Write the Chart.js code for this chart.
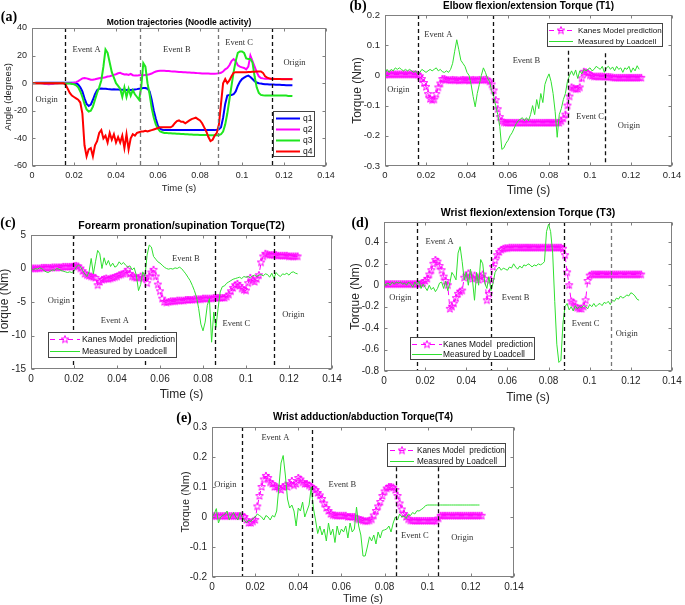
<!DOCTYPE html>
<html>
<head>
<meta charset="utf-8">
<script src="https://cdn.jsdelivr.net/npm/chart.js@4.4.1/dist/chart.umd.min.js"></script>
<style>
  body { margin: 0; width: 685px; height: 605px; background: #fff; position: relative; overflow: hidden; }
  canvas { position: absolute; }
</style>
</head>
<body>
<script>
// all series are sampled every 1 ms
const STEP = 0.001;
const xTicks = [0, 0.02, 0.04, 0.06, 0.08, 0.1, 0.12, 0.14];
const regionNames = ['Origin', 'Event A', 'Event B', 'Event C', 'Origin'];

// (a) joint angles (degrees)
const q1 = [0.2,0.2,0.3,0.3,0.3,0.3,0.3,0.3,0.3,0.3, 0.3,0.3,0.3,0.4,0.4,0.4,0.4,0.4,0.4,0.4,
  0.3,0,-1,-3,-6,-11,-15,-16.5,-15.5,-12, -8,-5,-4,-3.8,-4,-4,-4.2,-4.3,-4.5,-4.4,
  -4.5,-4.6,-4.7,-4.8,-4.8,-5,-4.8,-4.9,-4.7,-4.5, -4.3,-4,-3.8,-3.5,-3.5,-4,-6,-12,-20,-26,
  -31,-33,-33.8,-34,-34,-34,-34,-34,-34,-34, -34,-34,-34,-34,-34,-34,-34,-34,-34,-34,
  -34,-34,-34,-34,-34,-34,-34,-34,-33.8,-33.5, -32,-25,-15,-9,-8.5,-8.5,-8,-6,-2,1,
  3,4,5,5.5,4.5,3,1.5,0.5,0,-0.3, -0.5,-0.7,-0.8,-0.9,-1,-1,-1.1,-1.2,-1.2,-1.3,
  -1.3,-1.4,-1.4,-1.5,-1.5];
const q2 = [0,0,0,0,0,-0.3,-0.5,-0.6,-0.7,-0.6, -0.5,-0.3,-0.2,0,0,0,0,0,0,0,
  0.3,0.8,1.5,2.5,3.5,3.8,3.5,3,2.5,2.5, 2.8,3.2,3.6,4,4,4.3,4.8,5,5.5,6,
  6.5,7.2,7.5,6.8,6.3,6.5,6,6.8,5.8,5.5, 5.5,5.8,6,5.8,6,6.2,6.5,7,7.8,8.5,
  8.8,9,9,9,8.9,8.8,8.6,8.5,8.4,8.3, 8.2,8.1,8,7.9,7.8,7.7,7.6,7.5,7.4,7.3,
  7.2,7.1,7,7,7,6.9,6.9,6.9,7,7.2, 7.5,8.5,10,11,13,16,17.5,16,13,12,
  11.5,11,10,12,20,16,12,8,5,3.8, 3.5,3.3,3.3,3.2,3.2,3.2,3.1,3.1,3.1,3,
  3,3,3,3,3];
const q3 = [0,0,0,0,0,0,0,0,0,0, 0,0,0,0,0,0,-0.2,-0.2,-0.3,-0.5,
  -0.8,-1.5,-3,-6,-10,-15,-19,-20.5,-20,-17, -12,-7,-3,2,12,24.5,22,15,8,4,
  0,-2,-4,-10,-3,-10,-4,-9,-5,-8, -10,-12,-3,14.5,12,0,-8,-18,-25,-30,
  -33,-35,-35.5,-36,-36,-36.2,-36.3,-36.4,-36.5,-36.6, -36.7,-36.8,-36.9,-37,-37,-37.1,-37.2,-37.3,-37.3,-37.4,
  -37.5,-37.5,-37.6,-37.6,-37.7,-37.7,-37.8,-37.8,-37.7,-37.5, -37,-35,-30,-22,-12,-2,8,16,22,23,
  23,22,18,17.5,17.5,15,5,-3,-7,-8.5, -8.8,-9,-9,-9,-9,-9,-9,-9,-9,-9,
  -9,-9,-9.2,-9.2,-9.3];
const q4 = [0,0,0,0,0,0,0,0,0,0, 0,0,0,0,0,0,-1,-4,-7,-9,
  -10,-11,-12,-14,-22,-45,-53,-48,-47,-53, -45,-42,-36,-34,-40,-38,-43,-36,-41,-37,
  -43,-39,-43,-38,-47,-37,-48,-40,-37,-38, -36,-35.5,-35,-35,-34.5,-35,-34.5,-34,-33.5,-33,
  -32.5,-32,-32,-32,-32,-32,-32,-31,-29,-27.5, -27,-28,-28,-29,-28,-27,-26,-25.5,-25,-26,
  -27,-29,-32,-35,-39,-42,-41,-38,-36,-30, -15,0,3,0,2,5,7.5,8,8,8,
  8,8,8,8.2,8.2,8.3,8.3,8.4,8.5,8.5, 7.5,5,4,3.5,3,3,3,3,3,2.9,
  2.9,2.9,2.8,2.8,2.8];
const aYTicks = [-60, -40, -20, 0, 20, 40];
const aEvents = [0.0155, 0.0515, 0.0885, 0.1145];

// (b) elbow flexion/extension torque (Nm)
const bKanes = [0.002,0.003,0.003,0.003,0.003,0.003,0.003,0.003,0.003,0.003,
  0.003,0.003,0.003,0.003,0.003,0.003,0.002,-0.003,-0.012,-0.025,
  -0.038,-0.062,-0.078,-0.082,-0.08,-0.062,-0.04,-0.027,-0.012,-0.012,
  -0.015,-0.016,-0.016,-0.015,-0.016,-0.016,-0.017,-0.016,-0.015,-0.016,
  -0.016,-0.017,-0.016,-0.015,-0.016,-0.016,-0.015,-0.016,-0.015,-0.014,
  -0.016,-0.02,-0.03,-0.05,-0.082,-0.112,-0.138,-0.152,-0.156,-0.157,
  -0.157,-0.157,-0.157,-0.157,-0.157,-0.157,-0.157,-0.157,-0.157,-0.157,
  -0.157,-0.157,-0.157,-0.157,-0.157,-0.157,-0.157,-0.157,-0.157,-0.157,
  -0.157,-0.157,-0.157,-0.157,-0.157,-0.157,-0.152,-0.143,-0.13,-0.1,
  -0.07,-0.04,-0.043,-0.046,-0.045,-0.04,-0.01,0.012,0.01,0.007,
  0,-0.002,-0.004,-0.004,-0.004,-0.004,-0.004,-0.005,-0.005,-0.005,
  -0.006,-0.007,-0.008,-0.008,-0.008,-0.008,-0.008,-0.008,-0.008,-0.008,
  -0.008,-0.008,-0.008,-0.008,-0.008,-0.008];
const bLoad = [0.005,0.02,0.01,0.02,0.015,0.025,0.02,0.025,0.02,0.015,
  0.02,0.015,0.02,0.015,0.01,0.015,0.005,0.01,0.02,0.015,
  0.01,0.015,0.02,0.015,0.02,0.025,0.015,0.02,0.012,0.01,
  0.015,0.01,0.02,0.04,0.08,0.118,0.085,0.05,0.04,0.03,
  0.01,0,-0.03,-0.07,-0.104,-0.06,-0.03,0,0.025,0.01,
  -0.01,-0.02,-0.05,-0.07,-0.1,-0.13,-0.17,-0.245,-0.24,-0.225,
  -0.215,-0.2,-0.19,-0.175,-0.16,-0.15,-0.145,-0.14,-0.15,-0.14,
  -0.15,-0.13,-0.1,-0.13,-0.08,-0.11,-0.06,-0.09,-0.03,-0.01,
  0.005,-0.02,-0.06,-0.12,-0.205,-0.13,-0.11,-0.08,-0.06,-0.02,
  0,0.015,0,0.018,-0.01,0.015,0.005,0.02,0.015,0.02,
  0.025,0.015,0.02,0.03,0.025,0.02,0.03,0.01,0.025,0.03,
  0.02,0.028,0.015,0.03,0.02,0.025,0.01,0.025,0.02,0.03,
  0.01,0.025,0.015,0.032,0.02];
const bYTicks = [-0.3, -0.2, -0.1, 0, 0.1, 0.2];
const bEvents = [0.0163, 0.0529, 0.0895, 0.1074];
const bEventTops = [0.2, 0.2, 0.082, 0.073];

// (c) forearm pronation/supination torque (Nm)
const cKanes = [0,0,0,0,0,0.1,0.1,0.1,0.1,0.1,
  0.15,0.15,0.15,0.15,0.15,0.25,0.25,0.25,0.25,0.25,
  0.35,0.4,0.3,0,-0.4,-0.8,-1,-1.1,-1.2,-1.3,
  -1.4,-2.5,-2,-1.7,-1.6,-1.5,-1.6,-1.5,-1.4,-1.3,
  -1.2,-1,-0.9,-0.8,-0.6,-0.2,-0.8,-1.2,-1.3,-1.4,
  -1.4,-1.2,-1.5,-1.3,-2.2,-1.2,-0.6,-0.2,-1.2,-2.4,
  -3.4,-4.5,-5,-5.1,-5,-4.9,-4.9,-4.9,-4.8,-4.8,
  -4.8,-4.8,-4.7,-4.7,-4.7,-4.7,-4.6,-4.6,-4.6,-4.6,
  -4.5,-4.5,-4.5,-4.5,-4.5,-4.4,-4.4,-4.4,-4.4,-4.4,
  -4.4,-4.2,-3.9,-3.4,-2.9,-2.5,-2.3,-2.6,-3,-3.2,
  -3.3,-2.2,-1.4,-1.8,-2,-1.6,-1,0.9,1.8,2.2,
  2.1,2,2,2,2,1.9,1.9,1.9,1.9,1.9,
  1.8,1.8,1.8,1.8,1.8];
const cLoad = [0,-0.2,0,-0.1,0.1,0,-0.3,-0.5,-0.6,-0.4,
  -0.2,-0.3,0,-0.1,-0.3,-0.4,-0.5,-0.6,-0.5,-0.6,
  -0.4,0.2,0.5,0.3,-0.3,-0.8,-1.2,-0.5,1.5,-0.8,
  1,2.7,2.2,0,1.6,0.5,1.2,0.3,0.8,0.2,
  0.4,1,0.6,0.9,0.5,0.2,0.4,-0.2,0.1,-1,
  -3.3,-2.4,-0.5,-1.2,2,3.5,3.2,1.8,1.4,1,
  0.8,0.5,0.2,0,-0.1,0,-0.1,0.1,0,0.2,
  0,-0.4,-0.8,-1.3,-1.8,-2.5,-3.3,-4.3,-6,-8.3,
  -9.3,-8,-5.5,-4.5,-11,-6.5,-8.8,-6,-3.5,-2.7,
  -2.6,-2.2,-2,-1.8,-1.6,-1.5,-1.4,-1.3,-1.5,-1.2,
  -1.3,-1.2,-1.4,-1.1,-1,-1.2,-1,-0.9,-1.1,-0.8,
  -0.9,-1.3,-0.7,-1.5,-0.6,-1,-1.2,-0.8,-0.9,-0.7,
  -1,-0.6,-0.5,-0.7,-0.8];
const cYTicks = [-15, -10, -5, 0, 5];
const cEvents = [0.0197, 0.0528, 0.0854, 0.1128];

// (d) wrist flexion/extension torque (Nm)
const dKanes = [0.01,0.01,0.01,0.01,0.01,0.01,0.01,0.01,0.01,0.01,
  0.01,0.01,0.01,0.01,0.01,0.01,0.01,0.01,0.015,0.02,
  0.04,0.06,0.1,0.14,0.2,0.235,0.22,0.18,0.14,0.08,
  0.04,0,-0.22,-0.2,-0.17,-0.12,-0.08,-0.06,-0.05,0.07,
  0.09,0.11,0.08,0.06,0.09,0.07,0.05,0.08,0.1,0.06,
  -0.14,-0.08,0.05,0.17,0.23,0.28,0.31,0.33,0.34,0.345,
  0.345,0.35,0.35,0.35,0.35,0.35,0.35,0.35,0.35,0.35,
  0.35,0.35,0.35,0.35,0.35,0.35,0.35,0.35,0.35,0.35,
  0.35,0.35,0.35,0.35,0.35,0.35,0.35,0.34,0.28,0.12,
  0,-0.15,-0.16,-0.2,-0.21,-0.22,-0.22,-0.2,-0.14,0.04,
  0.09,0.1,0.1,0.1,0.1,0.1,0.1,0.1,0.1,0.1,
  0.1,0.1,0.1,0.1,0.1,0.1,0.1,0.1,0.1,0.1,
  0.1,0.1,0.1,0.1,0.1,0.1];
const dLoad = [0,0.01,0.02,0,0.03,0.01,0.03,0.02,0.03,0.01,
  0.02,0,0.03,0.01,-0.02,0.03,0,0.04,-0.03,0.01,
  -0.02,-0.05,0,-0.04,-0.02,-0.06,-0.03,0.02,0.03,-0.03,
  0.04,-0.05,0.02,0.12,0.09,0.05,0.3,0.36,0.22,0.05,
  0.12,0,0.15,0.05,-0.14,0.12,0,0.24,0.2,0.02,
  -0.03,0.08,-0.05,0.02,0.12,0.15,0.17,0.14,0.16,0.15,
  0.14,0.17,0.16,0.2,0.17,0.15,0.18,0.16,0.19,0.18,
  0.2,0.19,0.17,0.19,0.18,0.2,0.19,0.2,0.22,0.5,
  0.57,0.5,0.3,-0.15,-0.55,-0.72,-0.7,-0.35,-0.2,-0.17,
  -0.23,-0.2,-0.24,-0.19,-0.22,-0.2,-0.21,-0.19,-0.2,-0.22,
  -0.18,-0.2,-0.17,-0.2,-0.18,-0.17,-0.19,-0.16,-0.17,-0.15,
  -0.18,-0.14,-0.15,-0.12,-0.13,-0.1,-0.12,-0.11,-0.09,-0.1,
  -0.07,-0.08,-0.1,-0.13,-0.14];
const dYTicks = [-0.8, -0.6, -0.4, -0.2, 0, 0.2, 0.4];
const dEvents = [0.016, 0.052, 0.0875, 0.1104];

// (e) wrist adduction/abduction torque (Nm)
const eKanes = [0.003,0.003,0.003,0.003,0.003,0.003,0.003,0.003,0.003,0.003,
  0.003,0.003,0.003,0.003,0.003,0,-0.01,-0.02,-0.02,-0.015,
  -0.01,0.035,0.07,0.1,0.125,0.137,0.13,0.115,0.11,0.1,
  0.1,0.095,0.09,0.1,0.105,0.1,0.11,0.12,0.105,0.11,
  0.13,0.125,0.115,0.11,0.11,0.105,0.1,0.095,0.09,0.08,
  0.072,0.06,0.045,0.03,0.02,0.01,0.006,0.005,0.004,0.004,
  0.004,0.004,0.004,0,0,0,0,-0.005,-0.008,-0.01,
  -0.012,-0.014,-0.014,-0.012,-0.008,0.005,0.02,0.035,0.05,0.07,
  0.085,0.095,0.1,0.1,0.098,0.09,0.07,0.045,0.025,0.01,
  0,-0.008,-0.012,-0.013,-0.013,-0.013,-0.013,-0.013,-0.013,-0.013,
  -0.013,-0.013,-0.013,-0.013,-0.014,-0.005,0.004,0.004,0.004,0.004,
  0.004,0.004,0.004,0.004,0.004,0.004,0.004,0.004,0.004,0.004,
  0.004,0.004,0.004,0.004,0.004,0.004];
const eLoad = [0,0.01,0.028,-0.02,0,0.005,0.01,0.02,-0.01,0.005,
  0.015,0,-0.01,0.015,0,-0.01,-0.02,-0.01,-0.015,-0.005,
  0,0.01,0.005,0,-0.01,0.005,0,-0.01,0.005,0,
  0.02,0.1,0.18,0.205,0.14,0.06,0.03,0.04,0.02,-0.03,
  0.03,0.02,0.05,0,0.02,0.04,0.1,0.03,-0.01,-0.055,
  -0.03,-0.06,-0.04,-0.08,-0.02,-0.06,-0.04,-0.085,-0.03,-0.06,
  -0.04,-0.05,-0.03,-0.07,-0.02,-0.05,-0.04,0.033,-0.03,-0.06,
  -0.13,-0.13,-0.1,-0.066,-0.08,-0.06,-0.09,-0.05,-0.07,-0.045,
  -0.043,-0.04,-0.03,-0.05,-0.02,0,-0.01,0.01,0,0.003,
  -0.005,0.01,0.005,0.015,0.01,0.021,0.02,0.025,0.03,0.038,
  0.04,0.04,0.04,0.04,0.04,0.04,0.04,0.04,0.04,0.04,
  0.04,0.04,0.04,0.04,0.04,0.04,0.04,0.04,0.04,0.04,
  0.04,0.04,0.04,0.04,0.04];
const eYTicks = [-0.2, -0.1, 0, 0.1, 0.2, 0.3];
const eEvents = [0.014, 0.0464, 0.0851, 0.1048];
const eEventTops = [0.3, 0.29, 0.166, 0.166];

// ---------- drawing ----------
const SANS = '"Liberation Sans", Arial, sans-serif';
const SERIF = '"Liberation Serif", "Times New Roman", serif';
const M = { l: 50, t: 30, r: 16, b: 36 };   // room round each plot box

function pts(vals) {
  return vals.map((v, i) => ({ x: +(i * STEP).toFixed(3), y: v }));
}

function fmt(v) { return String(+v.toFixed(3)); }

// hollow pentagram marker like matlab 'p'
function starImg(r) {
  const c = document.createElement('canvas');
  const s = Math.ceil(r * 2 + 2);
  c.width = c.height = s;
  const g = c.getContext('2d');
  g.beginPath();
  for (let k = 0; k < 10; k++) {
    const rr = k % 2 ? r * 0.42 : r;
    const ang = -Math.PI / 2 + k * Math.PI / 5;
    g.lineTo(s / 2 + rr * Math.cos(ang), s / 2 + rr * Math.sin(ang));
  }
  g.closePath();
  g.strokeStyle = '#ff00ff';
  g.lineWidth = 1;
  g.stroke();
  return c;
}
const STAR = starImg(4);

function kanes(vals) {
  return { label: 'Kanes Model prediction', data: pts(vals), borderColor: '#ff00ff', borderWidth: 1,
    borderDash: [5, 4], pointStyle: STAR, pointRadius: 4, order: 2 };
}
function load(vals) {
  return { label: 'Measured by Loadcell', data: pts(vals), borderColor: '#2fe02f', borderWidth: 1,
    pointRadius: 0, order: 1 };
}
function joint(label, vals, color, order) {
  return { label: label, data: pts(vals), borderColor: color, borderWidth: 2, pointRadius: 0, order: order };
}

function decorate(chart, p) {
  const ctx = chart.ctx, a = chart.chartArea, xs = chart.scales.x, ys = chart.scales.y;
  const ox = p.rect[0] - M.l, oy = p.rect[1] - M.t;
  ctx.save();

  // event boundaries
  ctx.save();
  ctx.beginPath(); ctx.rect(a.left, a.top, a.right - a.left, a.bottom - a.top); ctx.clip();
  ctx.setLineDash([4, 3]);
  ctx.lineWidth = 1.3;
  p.events.forEach((t, i) => {
    const x = Math.round(xs.getPixelForValue(t)) + 0.5;
    const y0 = p.eventTops ? ys.getPixelForValue(p.eventTops[i]) : a.top;
    ctx.strokeStyle = p.eventColors ? p.eventColors[i] : '#111';
    ctx.beginPath(); ctx.moveTo(x, y0); ctx.lineTo(x, a.bottom); ctx.stroke();
  });
  ctx.restore();

  // region names
  ctx.fillStyle = '#333';
  ctx.font = p.noteSize + 'px ' + SERIF;
  ctx.textAlign = 'center'; ctx.textBaseline = 'middle';
  regionNames.forEach((s, i) => {
    const [t, v] = p.notes[i];
    ctx.fillText(s, xs.getPixelForValue(t), ys.getPixelForValue(v));
  });

  // box + inward ticks
  const L = a.left + 0.5, R = Math.round(a.right) - 0.5, T = a.top + 0.5, B = Math.round(a.bottom) - 0.5;
  ctx.strokeStyle = '#808080'; ctx.lineWidth = 1; ctx.setLineDash([]);
  ctx.strokeRect(L, T, R - L, B - T);
  ctx.beginPath();
  xTicks.forEach(t => {
    const x = Math.round(xs.getPixelForValue(t)) + 0.5;
    ctx.moveTo(x, B); ctx.lineTo(x, B - 3); ctx.moveTo(x, T); ctx.lineTo(x, T + 3);
  });
  p.yTicks.forEach(v => {
    const y = Math.round(ys.getPixelForValue(v)) + 0.5;
    ctx.moveTo(L, y); ctx.lineTo(L + 3, y); ctx.moveTo(R, y); ctx.lineTo(R - 3, y);
  });
  ctx.stroke();

  // legend
  const lg = p.legend;
  const bx = lg.box[0] - ox, by = lg.box[1] - oy;
  ctx.fillStyle = '#fff';
  ctx.fillRect(bx, by, lg.box[2], lg.box[3]);
  ctx.strokeStyle = '#444';
  ctx.strokeRect(bx + 0.5, by + 0.5, lg.box[2] - 1, lg.box[3] - 1);
  ctx.font = lg.size + 'px ' + SANS;
  ctx.textAlign = 'left'; ctx.textBaseline = 'middle';
  chart.data.datasets.forEach((ds, i) => {
    const y = lg.rows[i] - oy + 0.5;
    const x0 = bx + lg.line[0], x1 = bx + lg.line[1];
    ctx.strokeStyle = ds.borderColor; ctx.lineWidth = ds.borderWidth;
    ctx.setLineDash(ds.borderDash || []);
    ctx.beginPath(); ctx.moveTo(x0, y); ctx.lineTo(x1, y); ctx.stroke();
    ctx.setLineDash([]);
    if (ds.pointStyle === STAR) ctx.drawImage(STAR, (x0 + x1) / 2 - STAR.width / 2, y - STAR.height / 2);
    ctx.fillStyle = '#111';
    ctx.fillText(lg.labels ? lg.labels[i] : ds.label, bx + lg.text, y);
  });

  // title, panel letter, axis labels
  const cx = (a.left + a.right) / 2;
  ctx.fillStyle = '#000';
  ctx.textAlign = 'center'; ctx.textBaseline = 'middle';
  ctx.font = 'bold ' + p.titleSize + 'px ' + SANS;
  ctx.fillText(p.title, cx, p.titleY - oy);
  ctx.font = 'bold ' + p.letterSize + 'px ' + SERIF;
  ctx.fillText(p.letter, p.letterPos[0] - ox, p.letterPos[1] - oy);
  ctx.fillStyle = '#262626';
  ctx.font = p.labelSize + 'px ' + SANS;
  ctx.fillText('Time (s)', cx, p.xLabelY - oy);
  ctx.save();
  ctx.translate(p.yLabelX - ox, (a.top + a.bottom) / 2);
  ctx.rotate(-Math.PI / 2);
  ctx.fillText(p.yLabel, 0, 0);
  ctx.restore();

  ctx.restore();
}

function makePanel(p) {
  const [L, T, R, B] = p.rect;
  const cv = document.createElement('canvas');
  cv.width = R - L + M.l + M.r;
  cv.height = B - T + M.t + M.b;
  cv.style.left = (L - M.l) + 'px';
  cv.style.top = (T - M.t) + 'px';
  document.body.appendChild(cv);
  const tickFont = { size: p.tickSize, family: SANS };
  new Chart(cv, {
    type: 'line',
    data: { datasets: p.datasets },
    options: {
      responsive: false, animation: false, devicePixelRatio: 1,
      layout: { padding: { left: 0, top: M.t, right: M.r, bottom: 0 } },
      elements: { line: { tension: 0, fill: false } },
      plugins: { legend: { display: false }, tooltip: { enabled: false } },
      scales: {
        x: {
          type: 'linear', min: 0, max: 0.14,
          afterBuildTicks: s => { s.ticks = xTicks.map(v => ({ value: v })); },
          afterFit: s => { s.height = M.b; },
          grid: { display: false, drawTicks: false }, border: { display: false },
          ticks: { font: tickFont, color: '#262626', padding: 4, maxRotation: 0, autoSkip: false, callback: v => fmt(v) }
        },
        y: {
          type: 'linear', min: p.yMin, max: p.yMax,
          afterBuildTicks: s => { s.ticks = p.yTicks.map(v => ({ value: v })); },
          afterFit: s => { s.width = M.l; },
          grid: { display: false, drawTicks: false }, border: { display: false },
          ticks: { font: tickFont, color: '#262626', padding: 5, autoSkip: false, callback: v => fmt(v) }
        }
      }
    },
    plugins: [{ id: 'deco', afterDatasetsDraw: c => decorate(c, p) }]
  });
}

makePanel({
  rect: [32, 28, 326, 166], yMin: -60, yMax: 40, yTicks: aYTicks,
  datasets: [joint('q1', q1, '#0000ff', 4), joint('q2', q2, '#ff00ff', 3),
             joint('q3', q3, '#1ee61e', 2), joint('q4', q4, '#ff0000', 1)],
  events: aEvents, eventColors: ['#111', '#777', '#777', '#111'],
  notes: [[0.007, -11.7], [0.026, 24], [0.069, 24], [0.0986, 29.6], [0.125, 14.5]], noteSize: 8.5,
  legend: { box: [273, 111, 42, 46], line: [3, 27], text: 30, rows: [118, 129, 140, 151], size: 8.5 },
  title: 'Motion trajectories (Noodle activity)', titleY: 23, titleSize: 8.5,
  letter: '(a)', letterPos: [9, 17], letterSize: 14,
  yLabel: 'Angle (degrees)', yLabelX: 8, xLabelY: 188, labelSize: 9.5, tickSize: 9
});

makePanel({
  rect: [385, 15, 672, 166], yMin: -0.3, yMax: 0.2, yTicks: bYTicks,
  datasets: [kanes(bKanes), load(bLoad)],
  events: bEvents, eventTops: bEventTops,
  notes: [[0.0065, -0.049], [0.026, 0.136], [0.069, 0.048], [0.1, -0.137], [0.119, -0.167]], noteSize: 8.5,
  legend: { box: [547, 23, 116, 24], line: [2, 26], text: 31, rows: [30, 41], size: 8 },
  title: 'Elbow flexion/extension Torque (T1)', titleY: 6, titleSize: 10,
  letter: '(b)', letterPos: [358, 6], letterSize: 14,
  yLabel: 'Torque (Nm)', yLabelX: 358, xLabelY: 191, labelSize: 12, tickSize: 9.5
});

makePanel({
  rect: [31, 235, 332, 369], yMin: -15, yMax: 5, yTicks: cYTicks,
  datasets: [kanes(cKanes), load(cLoad)],
  events: cEvents,
  notes: [[0.013, -4.8], [0.039, -7.8], [0.072, 1.4], [0.0955, -8.3], [0.122, -6.9]], noteSize: 8.5,
  legend: { box: [48, 332, 129, 26], line: [2, 32], text: 34, rows: [339, 351], size: 8.7,
            labels: ['Kanes Model  prediction', 'Measured by Loadcell'] },
  title: 'Forearm pronation/supination Torque(T2)', titleY: 226, titleSize: 10.5,
  letter: '(c)', letterPos: [8, 223], letterSize: 14,
  yLabel: 'Torque (Nm)', yLabelX: 5, xLabelY: 395, labelSize: 12, tickSize: 10
});

makePanel({
  rect: [384, 222, 672, 371], yMin: -0.8, yMax: 0.59, yTicks: dYTicks,
  datasets: [kanes(dKanes), load(dLoad)],
  events: dEvents, eventColors: ['#111', '#111', '#111', '#777'],
  notes: [[0.008, -0.12], [0.027, 0.41], [0.064, -0.12], [0.098, -0.36], [0.118, -0.45]], noteSize: 8.5,
  legend: { box: [410, 337, 125, 23], line: [2, 32], text: 33, rows: [344, 354], size: 8.4,
            labels: ['Kanes Model  prediction', 'Measured by Loadcell'] },
  title: 'Wrist flexion/extension Torque (T3)', titleY: 213, titleSize: 10.5,
  letter: '(d)', letterPos: [360, 223], letterSize: 14,
  yLabel: 'Torque (Nm)', yLabelX: 356, xLabelY: 398, labelSize: 12, tickSize: 10
});

makePanel({
  rect: [212, 427, 514, 577], yMin: -0.2, yMax: 0.3, yTicks: eYTicks,
  datasets: [kanes(eKanes), load(eLoad)],
  events: eEvents, eventTops: eEventTops,
  notes: [[0.0062, 0.106], [0.0294, 0.265], [0.0604, 0.106], [0.094, -0.063], [0.116, -0.07]], noteSize: 8.5,
  legend: { box: [387, 443, 119, 24], line: [3, 27], text: 30, rows: [450, 461], size: 8.2,
            labels: ['Kanes Model  prediction', 'Measured by Loadcell'] },
  title: 'Wrist adduction/abduction Torque(T4)', titleY: 417, titleSize: 10,
  letter: '(e)', letterPos: [184, 418], letterSize: 14,
  yLabel: 'Torque (Nm)', yLabelX: 186, xLabelY: 599, labelSize: 11, tickSize: 10
});
</script>
</body>
</html>
